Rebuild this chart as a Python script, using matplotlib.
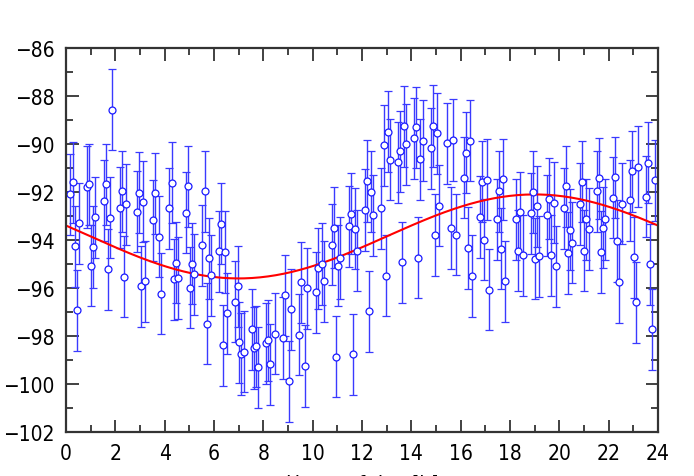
import numpy as np
import matplotlib
matplotlib.use("Agg")
import matplotlib.pyplot as plt
from matplotlib.ticker import MultipleLocator

hours = [
    0.18, 0.27, 0.35, 0.43, 0.54, 0.85, 0.95, 1.01, 1.11, 1.19,
    1.53, 1.61, 1.69, 1.78, 1.86, 2.19, 2.28, 2.35, 2.45,
    2.86, 2.95, 3.03, 3.12, 3.20, 3.53, 3.62, 3.77, 3.86,
    4.19, 4.28, 4.36, 4.45, 4.53, 4.86, 4.95, 5.03, 5.12, 5.20,
    5.53, 5.62, 5.70, 5.78, 5.88,
    6.20, 6.28, 6.35, 6.45, 6.54, 6.86, 6.96, 7.03, 7.11, 7.20,
    7.53, 7.61, 7.70, 7.78, 8.12, 8.20, 8.28, 8.46,
    8.78, 8.88, 9.04, 9.12, 9.45, 9.54, 9.70, 9.78,
    10.12, 10.20, 10.38, 10.46, 10.78, 10.88, 10.95, 11.03, 11.12,
    11.46, 11.54, 11.62, 11.70, 11.80,
    12.14, 12.22, 12.28, 12.38, 12.46, 12.78, 12.88, 12.96, 13.04, 13.12,
    13.46, 13.54, 13.62, 13.70, 13.80, 14.12, 14.20, 14.28, 14.36, 14.46,
    14.78, 14.88, 14.96, 15.04, 15.12, 15.45, 15.62, 15.70, 15.80,
    16.12, 16.22, 16.30, 16.38, 16.47, 16.78, 16.86, 16.95, 17.05, 17.15,
    17.47, 17.55, 17.64, 17.72, 17.81,
    18.26, 18.34, 18.42, 18.51, 18.85, 18.92, 19.00, 19.09, 19.18,
    19.51, 19.59, 19.68, 19.77, 19.85, 20.19, 20.27, 20.35, 20.43, 20.51,
    20.85, 20.93, 21.01, 21.09, 21.19, 21.51, 21.59, 21.68, 21.76, 21.85,
    22.18, 22.26, 22.35, 22.43, 22.53, 22.85, 22.93, 23.01, 23.11, 23.19,
    23.51, 23.61, 23.69, 23.77, 23.86,
]
values = [
    -92.10, -91.60, -94.26, -96.93, -93.31, -91.79, -91.67, -95.07, -94.29, -93.06,
    -92.36, -91.68, -95.22, -93.07, -88.57, -92.65, -91.97, -95.53, -92.51,
    -92.82, -92.03, -95.93, -92.40, -95.72, -93.18, -92.06, -93.86, -96.24,
    -92.68, -91.61, -95.64, -94.94, -95.58, -92.86, -91.76, -95.99, -94.99, -95.43,
    -94.22, -91.96, -97.49, -94.76, -95.47,
    -94.47, -93.32, -98.38, -94.50, -97.06, -96.57, -95.92, -98.26, -98.75, -98.65,
    -97.71, -98.50, -98.42, -99.31, -98.31, -98.18, -99.17, -97.90,
    -98.08, -96.31, -99.89, -96.89, -97.94, -95.76, -99.25, -96.01,
    -96.18, -95.17, -95.00, -95.71, -94.19, -93.49, -98.86, -95.07, -94.75,
    -93.42, -92.90, -98.76, -93.53, -94.44,
    -92.75, -91.54, -96.96, -91.99, -92.96, -92.68, -90.06, -95.49, -89.49, -90.65,
    -90.76, -90.31, -94.93, -89.26, -90.01, -89.76, -89.31, -94.74, -90.63, -89.86,
    -90.17, -89.25, -93.79, -89.56, -92.57, -89.97, -93.50, -89.83, -93.78,
    -91.40, -90.36, -94.33, -89.86, -95.50, -93.04, -91.57, -93.99, -91.49, -96.07,
    -93.14, -91.96, -94.36, -91.46, -95.71,
    -93.14, -94.44, -92.85, -94.64, -92.88, -92.00, -94.78, -92.60, -94.68,
    -92.96, -92.28, -94.64, -92.44, -95.10, -92.68, -91.76, -94.54, -93.57, -94.11,
    -92.50, -91.57, -94.44, -93.13, -93.54, -91.97, -91.43, -94.50, -93.49, -93.13,
    -92.24, -91.39, -94.04, -95.75, -92.49, -92.35, -91.13, -94.72, -96.60, -90.94,
    -92.19, -90.78, -95.01, -97.72, -91.51,
]
error = 1.69

# sinusoidal fit
fit_mean = -93.85
fit_amp = 1.75
fit_peak_hour = 19.0
fit_period = 24.0

plt.rcParams['font.family'] = ['DejaVu Sans']
plt.rcParams['font.stretch'] = 'condensed'

fig = plt.figure(figsize=(6.94, 4.77), dpi=100)
ax = fig.add_axes([0.0951, 0.0922, 0.853, 0.805])

ax.errorbar(hours, values, yerr=error, fmt='o', color='#1a1aff', ecolor='#3a3aff',
            elinewidth=1.0, capsize=3, capthick=1.0, markersize=5,
            markerfacecolor='white', markeredgecolor='#1a1aff', markeredgewidth=0.9)

xs = np.linspace(0, 24, 300)
ax.plot(xs, fit_mean + fit_amp * np.cos(2 * np.pi * (xs - fit_peak_hour) / fit_period),
        color='red', lw=1.5)

ax.set_xlim(0, 24)
ax.set_ylim(-102, -86)
ax.xaxis.set_major_locator(MultipleLocator(2))
ax.xaxis.set_minor_locator(MultipleLocator(1))
ax.yaxis.set_major_locator(MultipleLocator(2))
ax.yaxis.set_minor_locator(MultipleLocator(1))
ax.tick_params(which='both', direction='in', top=True, right=True, labelsize=15,
               width=1.3, color='#333333')
ax.tick_params(which='major', length=9, pad=8)
ax.tick_params(which='minor', length=5)
for s in ax.spines.values():
    s.set_linewidth(1.6)
    s.set_color('#333333')

ax.set_xlabel('Hours of day [h]', fontsize=15, labelpad=8)
ax.set_ylabel('Signal strength [dBm]', fontsize=15, labelpad=12)

fig.savefig('out.png', dpi=100)
